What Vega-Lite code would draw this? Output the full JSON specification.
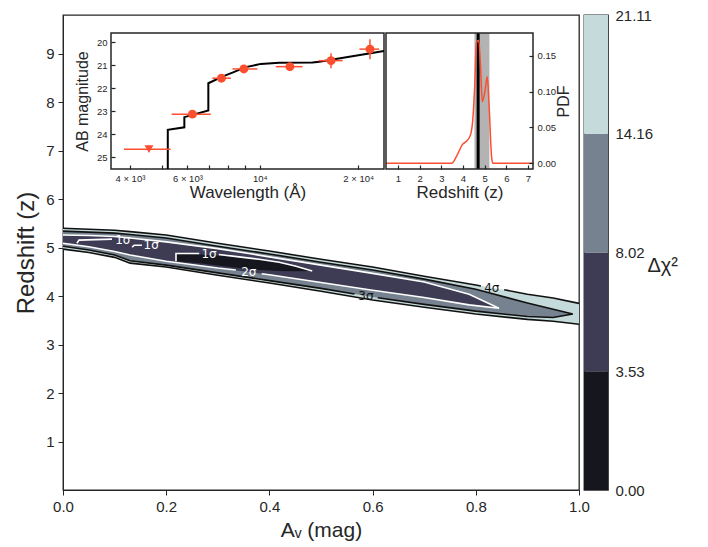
{
  "$schema": "https://vega.github.io/schema/vega-lite/v6.json",
  "background": "white",
  "padding": {"left": 14, "top": 7, "right": 5, "bottom": 5},
  "config": {
    "font": "Liberation Sans",
    "view": {"stroke": "#262626", "strokeWidth": 1.3},
    "axis": {"labelColor": "#262626", "titleColor": "#262626", "domainColor": "#262626", "tickColor": "#262626", "labelFont": "Liberation Sans", "titleFont": "Liberation Sans", "titleFontWeight": "normal", "grid": false, "labelFlush": false}
  },
  "datasets": {
    "one": [{"k": 1}],
    "outer": [
      {"a": 0, "hi": 5.40, "lo": 4.97}, {"a": 0.05, "hi": 5.38, "lo": 4.90}, {"a": 0.10, "hi": 5.36, "lo": 4.80}, {"a": 0.13, "hi": 5.33, "lo": 4.68},
      {"a": 0.20, "hi": 5.26, "lo": 4.60}, {"a": 0.30, "hi": 5.09, "lo": 4.43}, {"a": 0.40, "hi": 4.93, "lo": 4.27}, {"a": 0.50, "hi": 4.76, "lo": 4.10},
      {"a": 0.60, "hi": 4.60, "lo": 3.92}, {"a": 0.70, "hi": 4.41, "lo": 3.77}, {"a": 0.80, "hi": 4.23, "lo": 3.63}, {"a": 0.90, "hi": 4.04, "lo": 3.52},
      {"a": 0.95, "hi": 3.96, "lo": 3.48}, {"a": 1.0, "hi": 3.85, "lo": 3.42}
    ],
    "mid": [
      {"a": 0, "hi": 5.34, "lo": 5.03}, {"a": 0.05, "hi": 5.32, "lo": 4.95}, {"a": 0.10, "hi": 5.30, "lo": 4.85}, {"a": 0.13, "hi": 5.27, "lo": 4.73},
      {"a": 0.20, "hi": 5.20, "lo": 4.64}, {"a": 0.30, "hi": 5.03, "lo": 4.48}, {"a": 0.40, "hi": 4.87, "lo": 4.32}, {"a": 0.50, "hi": 4.70, "lo": 4.16},
      {"a": 0.60, "hi": 4.54, "lo": 3.98}, {"a": 0.70, "hi": 4.35, "lo": 3.83}, {"a": 0.80, "hi": 4.14, "lo": 3.69}, {"a": 0.90, "hi": 3.86, "lo": 3.58},
      {"a": 0.95, "hi": 3.73, "lo": 3.56}, {"a": 0.988, "hi": 3.63, "lo": 3.63}
    ],
    "navy": [
      {"a": 0, "hi": 5.26, "lo": 5.09}, {"a": 0.05, "hi": 5.25, "lo": 5.02}, {"a": 0.10, "hi": 5.23, "lo": 4.92}, {"a": 0.13, "hi": 5.20, "lo": 4.85},
      {"a": 0.20, "hi": 5.12, "lo": 4.72}, {"a": 0.30, "hi": 4.98, "lo": 4.58}, {"a": 0.36, "hi": 4.88, "lo": 4.50}, {"a": 0.40, "hi": 4.81, "lo": 4.44},
      {"a": 0.50, "hi": 4.64, "lo": 4.28}, {"a": 0.60, "hi": 4.47, "lo": 4.12}, {"a": 0.70, "hi": 4.29, "lo": 3.97}, {"a": 0.787, "hi": 4.04, "lo": 3.82},
      {"a": 0.845, "hi": 3.75, "lo": 3.75}
    ],
    "core": [
      {"a": 0.219, "hi": 4.88, "lo": 4.72}, {"a": 0.264, "hi": 4.86, "lo": 4.68}, {"a": 0.30, "hi": 4.84, "lo": 4.63}, {"a": 0.341, "hi": 4.80, "lo": 4.58},
      {"a": 0.38, "hi": 4.76, "lo": 4.54}, {"a": 0.419, "hi": 4.70, "lo": 4.52}, {"a": 0.45, "hi": 4.62, "lo": 4.515}, {"a": 0.483, "hi": 4.52, "lo": 4.52}
    ],
    "clines": [
      {"seg": "4a", "sigma": "4σ", "i": 0, "a": 0, "z": 5.40}, {"seg": "4a", "sigma": "4σ", "i": 1, "a": 0.05, "z": 5.38}, {"seg": "4a", "sigma": "4σ", "i": 2, "a": 0.10, "z": 5.36},
      {"seg": "4a", "sigma": "4σ", "i": 3, "a": 0.13, "z": 5.33}, {"seg": "4a", "sigma": "4σ", "i": 4, "a": 0.20, "z": 5.26}, {"seg": "4a", "sigma": "4σ", "i": 5, "a": 0.30, "z": 5.09},
      {"seg": "4a", "sigma": "4σ", "i": 6, "a": 0.40, "z": 4.93}, {"seg": "4a", "sigma": "4σ", "i": 7, "a": 0.50, "z": 4.76}, {"seg": "4a", "sigma": "4σ", "i": 8, "a": 0.60, "z": 4.60},
      {"seg": "4a", "sigma": "4σ", "i": 9, "a": 0.70, "z": 4.41}, {"seg": "4a", "sigma": "4σ", "i": 10, "a": 0.80, "z": 4.23}, {"seg": "4a", "sigma": "4σ", "i": 11, "a": 0.81, "z": 4.21},
      {"seg": "4b", "sigma": "4σ", "i": 0, "a": 0.855, "z": 4.13}, {"seg": "4b", "sigma": "4σ", "i": 1, "a": 0.90, "z": 4.04}, {"seg": "4b", "sigma": "4σ", "i": 2, "a": 0.95, "z": 3.96},
      {"seg": "4b", "sigma": "4σ", "i": 3, "a": 1.0, "z": 3.85},
      {"seg": "4c", "sigma": "4σ", "i": 0, "a": 0, "z": 4.97}, {"seg": "4c", "sigma": "4σ", "i": 1, "a": 0.05, "z": 4.90}, {"seg": "4c", "sigma": "4σ", "i": 2, "a": 0.10, "z": 4.80},
      {"seg": "4c", "sigma": "4σ", "i": 3, "a": 0.13, "z": 4.68}, {"seg": "4c", "sigma": "4σ", "i": 4, "a": 0.20, "z": 4.60}, {"seg": "4c", "sigma": "4σ", "i": 5, "a": 0.30, "z": 4.43},
      {"seg": "4c", "sigma": "4σ", "i": 6, "a": 0.40, "z": 4.27}, {"seg": "4c", "sigma": "4σ", "i": 7, "a": 0.50, "z": 4.10}, {"seg": "4c", "sigma": "4σ", "i": 8, "a": 0.60, "z": 3.92},
      {"seg": "4c", "sigma": "4σ", "i": 9, "a": 0.70, "z": 3.77}, {"seg": "4c", "sigma": "4σ", "i": 10, "a": 0.80, "z": 3.63}, {"seg": "4c", "sigma": "4σ", "i": 11, "a": 0.90, "z": 3.52},
      {"seg": "4c", "sigma": "4σ", "i": 12, "a": 0.95, "z": 3.48}, {"seg": "4c", "sigma": "4σ", "i": 13, "a": 1.0, "z": 3.42},
      {"seg": "3a", "sigma": "3σ", "i": 0, "a": 0, "z": 5.34}, {"seg": "3a", "sigma": "3σ", "i": 1, "a": 0.05, "z": 5.32}, {"seg": "3a", "sigma": "3σ", "i": 2, "a": 0.10, "z": 5.30},
      {"seg": "3a", "sigma": "3σ", "i": 3, "a": 0.13, "z": 5.27}, {"seg": "3a", "sigma": "3σ", "i": 4, "a": 0.20, "z": 5.20}, {"seg": "3a", "sigma": "3σ", "i": 5, "a": 0.30, "z": 5.03},
      {"seg": "3a", "sigma": "3σ", "i": 6, "a": 0.40, "z": 4.87}, {"seg": "3a", "sigma": "3σ", "i": 7, "a": 0.50, "z": 4.70}, {"seg": "3a", "sigma": "3σ", "i": 8, "a": 0.60, "z": 4.54},
      {"seg": "3a", "sigma": "3σ", "i": 9, "a": 0.70, "z": 4.35}, {"seg": "3a", "sigma": "3σ", "i": 10, "a": 0.80, "z": 4.14}, {"seg": "3a", "sigma": "3σ", "i": 11, "a": 0.90, "z": 3.86},
      {"seg": "3a", "sigma": "3σ", "i": 12, "a": 0.95, "z": 3.73}, {"seg": "3a", "sigma": "3σ", "i": 13, "a": 0.988, "z": 3.63}, {"seg": "3a", "sigma": "3σ", "i": 14, "a": 0.95, "z": 3.56},
      {"seg": "3a", "sigma": "3σ", "i": 15, "a": 0.90, "z": 3.58}, {"seg": "3a", "sigma": "3σ", "i": 16, "a": 0.80, "z": 3.69}, {"seg": "3a", "sigma": "3σ", "i": 17, "a": 0.70, "z": 3.83},
      {"seg": "3a", "sigma": "3σ", "i": 18, "a": 0.61, "z": 3.965},
      {"seg": "3b", "sigma": "3σ", "i": 0, "a": 0.565, "z": 4.043}, {"seg": "3b", "sigma": "3σ", "i": 1, "a": 0.50, "z": 4.16}, {"seg": "3b", "sigma": "3σ", "i": 2, "a": 0.40, "z": 4.32},
      {"seg": "3b", "sigma": "3σ", "i": 3, "a": 0.30, "z": 4.48}, {"seg": "3b", "sigma": "3σ", "i": 4, "a": 0.20, "z": 4.64}, {"seg": "3b", "sigma": "3σ", "i": 5, "a": 0.13, "z": 4.73},
      {"seg": "3b", "sigma": "3σ", "i": 6, "a": 0.10, "z": 4.85}, {"seg": "3b", "sigma": "3σ", "i": 7, "a": 0.05, "z": 4.95}, {"seg": "3b", "sigma": "3σ", "i": 8, "a": 0, "z": 5.03},
      {"seg": "2a", "sigma": "2σ", "i": 0, "a": 0, "z": 5.26}, {"seg": "2a", "sigma": "2σ", "i": 1, "a": 0.05, "z": 5.25}, {"seg": "2a", "sigma": "2σ", "i": 2, "a": 0.10, "z": 5.23},
      {"seg": "2a", "sigma": "2σ", "i": 3, "a": 0.13, "z": 5.20}, {"seg": "2a", "sigma": "2σ", "i": 4, "a": 0.20, "z": 5.12}, {"seg": "2a", "sigma": "2σ", "i": 5, "a": 0.30, "z": 4.98},
      {"seg": "2a", "sigma": "2σ", "i": 6, "a": 0.36, "z": 4.88}, {"seg": "2a", "sigma": "2σ", "i": 7, "a": 0.40, "z": 4.81}, {"seg": "2a", "sigma": "2σ", "i": 8, "a": 0.50, "z": 4.64},
      {"seg": "2a", "sigma": "2σ", "i": 9, "a": 0.60, "z": 4.47}, {"seg": "2a", "sigma": "2σ", "i": 10, "a": 0.70, "z": 4.29}, {"seg": "2a", "sigma": "2σ", "i": 11, "a": 0.787, "z": 4.04},
      {"seg": "2a", "sigma": "2σ", "i": 12, "a": 0.845, "z": 3.75}, {"seg": "2a", "sigma": "2σ", "i": 13, "a": 0.787, "z": 3.82}, {"seg": "2a", "sigma": "2σ", "i": 14, "a": 0.70, "z": 3.97},
      {"seg": "2a", "sigma": "2σ", "i": 15, "a": 0.60, "z": 4.12}, {"seg": "2a", "sigma": "2σ", "i": 16, "a": 0.50, "z": 4.28}, {"seg": "2a", "sigma": "2σ", "i": 17, "a": 0.40, "z": 4.44},
      {"seg": "2a", "sigma": "2σ", "i": 18, "a": 0.385, "z": 4.46},
      {"seg": "2b", "sigma": "2σ", "i": 0, "a": 0.335, "z": 4.54}, {"seg": "2b", "sigma": "2σ", "i": 1, "a": 0.30, "z": 4.58}, {"seg": "2b", "sigma": "2σ", "i": 2, "a": 0.20, "z": 4.72},
      {"seg": "2b", "sigma": "2σ", "i": 3, "a": 0.13, "z": 4.85}, {"seg": "2b", "sigma": "2σ", "i": 4, "a": 0.10, "z": 4.92}, {"seg": "2b", "sigma": "2σ", "i": 5, "a": 0.05, "z": 5.02},
      {"seg": "2b", "sigma": "2σ", "i": 6, "a": 0, "z": 5.09},
      {"seg": "1a", "sigma": "1σ", "i": 0, "a": 0.027, "z": 5.09}, {"seg": "1a", "sigma": "1σ", "i": 1, "a": 0.031, "z": 5.155}, {"seg": "1a", "sigma": "1σ", "i": 2, "a": 0.095, "z": 5.176},
      {"seg": "1b", "sigma": "1σ", "i": 0, "a": 0.134, "z": 5.01}, {"seg": "1b", "sigma": "1σ", "i": 1, "a": 0.138, "z": 5.05}, {"seg": "1b", "sigma": "1σ", "i": 2, "a": 0.153, "z": 5.05},
      {"seg": "1c", "sigma": "1σ", "i": 0, "a": 0.219, "z": 4.72}, {"seg": "1c", "sigma": "1σ", "i": 1, "a": 0.219, "z": 4.88}, {"seg": "1c", "sigma": "1σ", "i": 2, "a": 0.264, "z": 4.88},
      {"seg": "1d", "sigma": "1σ", "i": 0, "a": 0.302, "z": 4.86}, {"seg": "1d", "sigma": "1σ", "i": 1, "a": 0.341, "z": 4.81}, {"seg": "1d", "sigma": "1σ", "i": 2, "a": 0.38, "z": 4.76},
      {"seg": "1d", "sigma": "1σ", "i": 3, "a": 0.419, "z": 4.70}, {"seg": "1d", "sigma": "1σ", "i": 4, "a": 0.45, "z": 4.62}, {"seg": "1d", "sigma": "1σ", "i": 5, "a": 0.483, "z": 4.52}
    ],
    "clabels": [
      {"a": 0.116, "z": 5.165, "sigma": "1σ"}, {"a": 0.171, "z": 5.05, "sigma": "1σ"}, {"a": 0.283, "z": 4.875, "sigma": "1σ"},
      {"a": 0.36, "z": 4.50, "sigma": "2σ"}, {"a": 0.587, "z": 4.00, "sigma": "3σ"}, {"a": 0.831, "z": 4.16, "sigma": "4σ"}
    ],
    "model": [
      {"i": 0, "w": 5224, "m": 25.5}, {"i": 1, "w": 5224, "m": 23.80}, {"i": 2, "w": 5871, "m": 23.69}, {"i": 3, "w": 5871, "m": 23.25},
      {"i": 4, "w": 6953, "m": 22.96}, {"i": 5, "w": 6953, "m": 21.78}, {"i": 6, "w": 7677, "m": 21.49}, {"i": 7, "w": 8240, "m": 21.32},
      {"i": 8, "w": 9057, "m": 21.08}, {"i": 9, "w": 10070, "m": 20.94}, {"i": 10, "w": 11460, "m": 20.89}, {"i": 11, "w": 14500, "m": 20.88},
      {"i": 12, "w": 15200, "m": 20.85}, {"i": 13, "w": 24000, "m": 20.38}
    ],
    "phot": [
      {"w": 4575, "m": 24.64, "wlo": 3835, "whi": 5330, "kind": "upper limit"},
      {"w": 6214, "m": 23.12, "wlo": 5370, "whi": 7075, "mlo": 23.05, "mhi": 23.19, "kind": "detection"},
      {"w": 7627, "m": 21.56, "wlo": 7150, "whi": 8150, "mlo": 21.50, "mhi": 21.62, "kind": "detection"},
      {"w": 8931, "m": 21.16, "wlo": 8240, "whi": 9830, "mlo": 21.10, "mhi": 21.22, "kind": "detection"},
      {"w": 12360, "m": 21.06, "wlo": 11190, "whi": 13510, "mlo": 20.92, "mhi": 21.20, "kind": "detection"},
      {"w": 16520, "m": 20.80, "wlo": 15130, "whi": 17930, "mlo": 20.48, "mhi": 21.13, "kind": "detection"},
      {"w": 21740, "m": 20.30, "wlo": 20180, "whi": 23200, "mlo": 19.87, "mhi": 20.74, "kind": "detection"}
    ],
    "pdf": [
      {"z": 0.45, "p": 0}, {"z": 3.48, "p": 0}, {"z": 3.74, "p": 0.012}, {"z": 3.97, "p": 0.026}, {"z": 4.2, "p": 0.032},
      {"z": 4.35, "p": 0.04}, {"z": 4.45, "p": 0.06}, {"z": 4.54, "p": 0.107}, {"z": 4.62, "p": 0.168}, {"z": 4.73, "p": 0.172},
      {"z": 4.81, "p": 0.135}, {"z": 4.89, "p": 0.086}, {"z": 5.01, "p": 0.10}, {"z": 5.12, "p": 0.121}, {"z": 5.2, "p": 0.084},
      {"z": 5.32, "p": 0.009}, {"z": 5.38, "p": 0}, {"z": 7.23, "p": 0}
    ],
    "cbar": [
      {"lo": 0, "hi": 1, "band": "0.00–3.53"}, {"lo": 1, "hi": 2, "band": "3.53–8.02"},
      {"lo": 2, "hi": 3, "band": "8.02–14.16"}, {"lo": 3, "hi": 4, "band": "14.16–21.11"}
    ]
  },
  "spacing": 5,
  "bounds": "flush",
  "hconcat": [
    {
      "width": 516,
      "height": 475,
      "layer": [
        {
          "layer": [
            {
              "data": {"name": "outer"},
              "mark": {"type": "area", "color": "#c5dada", "strokeWidth": 0},
              "encoding": {
                "x": {"field": "a", "type": "quantitative", "title": "Aᵥ (mag)", "scale": {"domain": [0, 1], "nice": false},
                      "axis": {"orient": "bottom", "values": [0, 0.2, 0.4, 0.6, 0.8, 1.0], "format": ".1f", "labelFontSize": 15, "titleFontSize": 21, "tickSize": 5, "labelPadding": 4, "titlePadding": 5}},
                "y": {"field": "hi", "type": "quantitative", "title": "Redshift (z)", "scale": {"domain": [0, 9.8], "nice": false, "zero": false},
                      "axis": {"orient": "left", "values": [1, 2, 3, 4, 5, 6, 7, 8, 9], "labelFontSize": 15, "titleFontSize": 24, "tickSize": 5, "labelPadding": 4, "titlePadding": 7}},
                "y2": {"field": "lo"}
              }
            },
            {
              "data": {"name": "mid"},
              "mark": {"type": "area", "color": "#76828f", "strokeWidth": 0},
              "encoding": {
                "x": {"field": "a", "type": "quantitative", "title": "Aᵥ (mag)"},
                "y": {"field": "hi", "type": "quantitative", "title": "Redshift (z)"},
                "y2": {"field": "lo"}
              }
            },
            {
              "data": {"name": "navy"},
              "mark": {"type": "area", "color": "#3d3c54", "strokeWidth": 0},
              "encoding": {
                "x": {"field": "a", "type": "quantitative", "title": "Aᵥ (mag)"},
                "y": {"field": "hi", "type": "quantitative", "title": "Redshift (z)"},
                "y2": {"field": "lo"}
              }
            },
            {
              "data": {"name": "core"},
              "mark": {"type": "area", "color": "#16161f", "strokeWidth": 0},
              "encoding": {
                "x": {"field": "a", "type": "quantitative", "title": "Aᵥ (mag)"},
                "y": {"field": "hi", "type": "quantitative", "title": "Redshift (z)"},
                "y2": {"field": "lo"}
              }
            },
            {
              "data": {"name": "clines"},
              "mark": {"type": "line", "strokeWidth": 1.6},
              "encoding": {
                "x": {"field": "a", "type": "quantitative", "title": "Aᵥ (mag)"},
                "y": {"field": "z", "type": "quantitative", "title": "Redshift (z)"},
                "detail": {"field": "seg"},
                "order": {"field": "i", "type": "quantitative"},
                "color": {"field": "sigma", "type": "nominal", "scale": {"domain": ["1σ", "2σ", "3σ", "4σ"], "range": ["#ffffff", "#ffffff", "#111111", "#111111"]}, "legend": null}
              }
            },
            {
              "data": {"name": "clabels"},
              "mark": {"type": "text", "fontSize": 12, "font": "DejaVu Sans", "align": "center", "baseline": "middle"},
              "encoding": {
                "x": {"field": "a", "type": "quantitative", "title": "Aᵥ (mag)"},
                "y": {"field": "z", "type": "quantitative", "title": "Redshift (z)"},
                "text": {"field": "sigma"},
                "color": {"field": "sigma", "type": "nominal", "scale": {"domain": ["1σ", "2σ", "3σ", "4σ"], "range": ["#ffffff", "#ffffff", "#111111", "#111111"]}, "legend": null}
              }
            }
          ]
        },
        {
          "layer": [
            {
              "data": {"name": "one"},
              "mark": {"type": "rect", "fill": "white", "stroke": "#262626", "strokeWidth": 1.5},
              "encoding": {
                "x": {"datum": 3500, "type": "quantitative", "title": "Wavelength (Å)", "scale": {"type": "log", "domain": [3500, 24000], "range": [48, 321], "nice": false}},
                "x2": {"datum": 24000},
                "y": {"datum": 19.6, "type": "quantitative", "title": "AB magnitude", "scale": {"domain": [19.6, 25.5], "range": [18, 154], "nice": false, "zero": false}},
                "y2": {"datum": 25.5}
              }
            },
            {
              "data": {"name": "model"},
              "mark": {"type": "line", "color": "black", "strokeWidth": 2},
              "encoding": {
                "x": {"field": "w", "type": "quantitative", "title": "Wavelength (Å)",
                      "axis": {"orient": "bottom", "offset": -321, "zindex": 1, "domain": false, "values": [4000, 5000, 6000, 7000, 8000, 9000, 10000, 20000],
                               "labelExpr": "datum.value == 4000 ? '4 × 10³' : datum.value == 6000 ? '6 × 10³' : datum.value == 10000 ? '10⁴' : datum.value == 20000 ? '2 × 10⁴' : ''",
                               "tickSize": -4, "tickWidth": 1.2, "labelPadding": 8, "labelFontSize": 9.5, "titleFontSize": 17, "titlePadding": 2}},
                "y": {"field": "m", "type": "quantitative", "title": "AB magnitude",
                      "axis": {"orient": "left", "offset": -48, "zindex": 1, "domain": false, "values": [20, 21, 22, 23, 24, 25], "format": "d", "tickSize": -4, "tickWidth": 1.2, "labelPadding": 8, "labelFontSize": 9.5, "titleFontSize": 16, "titlePadding": 6}},
                "order": {"field": "i", "type": "quantitative"}
              }
            },
            {
              "data": {"name": "phot"},
              "mark": {"type": "rule", "color": "#fc4f30", "strokeWidth": 1.5},
              "encoding": {
                "x": {"field": "wlo", "type": "quantitative", "title": "Wavelength (Å)"},
                "x2": {"field": "whi"},
                "y": {"field": "m", "type": "quantitative", "title": "AB magnitude"}
              }
            },
            {
              "data": {"name": "phot"},
              "transform": [{"filter": "datum.mlo != null"}],
              "mark": {"type": "rule", "color": "#fc4f30", "strokeWidth": 1.5},
              "encoding": {
                "x": {"field": "w", "type": "quantitative", "title": "Wavelength (Å)"},
                "y": {"field": "mlo", "type": "quantitative", "title": "AB magnitude"},
                "y2": {"field": "mhi"}
              }
            },
            {
              "data": {"name": "phot"},
              "mark": {"type": "point", "filled": true, "opacity": 1, "color": "#fc4f30", "size": 80},
              "encoding": {
                "x": {"field": "w", "type": "quantitative", "title": "Wavelength (Å)"},
                "y": {"field": "m", "type": "quantitative", "title": "AB magnitude"},
                "shape": {"field": "kind", "type": "nominal", "scale": {"domain": ["detection", "upper limit"], "range": ["circle", "triangle-down"]}, "legend": null}
              }
            }
          ]
        },
        {
          "layer": [
            {
              "data": {"name": "one"},
              "mark": {"type": "rect", "fill": "white", "strokeWidth": 0},
              "encoding": {
                "x": {"datum": 0.45, "type": "quantitative", "title": "Redshift (z)", "scale": {"domain": [0.45, 7.23], "range": [323, 470], "nice": false, "zero": false}},
                "x2": {"datum": 7.23},
                "y": {"datum": -0.008, "type": "quantitative", "title": "PDF", "scale": {"domain": [-0.008, 0.182], "range": [154, 18], "nice": false, "zero": false}},
                "y2": {"datum": 0.182}
              }
            },
            {
              "data": {"name": "one"},
              "mark": {"type": "rect", "fill": "#b3b3b3", "strokeWidth": 0},
              "encoding": {
                "x": {"datum": 4.53, "type": "quantitative", "title": "Redshift (z)"},
                "x2": {"datum": 5.22},
                "y": {"datum": -0.008, "type": "quantitative", "title": "PDF"},
                "y2": {"datum": 0.182}
              }
            },
            {
              "data": {"name": "one"},
              "mark": {"type": "rule", "color": "black", "strokeWidth": 3},
              "encoding": {
                "x": {"datum": 4.70, "type": "quantitative", "title": "Redshift (z)"},
                "y": {"datum": -0.008, "type": "quantitative", "title": "PDF"},
                "y2": {"datum": 0.182}
              }
            },
            {
              "data": {"name": "pdf"},
              "mark": {"type": "line", "color": "#fc4f30", "strokeWidth": 1.5, "interpolate": "monotone"},
              "encoding": {
                "x": {"field": "z", "type": "quantitative", "title": "Redshift (z)",
                      "axis": {"orient": "bottom", "offset": -321, "zindex": 1, "domain": false, "values": [1, 2, 3, 4, 5, 6, 7], "format": "d", "tickSize": -4, "tickWidth": 1.2, "labelPadding": 8, "labelFontSize": 9.5, "titleFontSize": 17, "titlePadding": 2}},
                "y": {"field": "p", "type": "quantitative", "title": "PDF",
                      "axis": {"orient": "right", "offset": -46, "zindex": 1, "domain": false, "values": [0, 0.05, 0.1, 0.15], "format": ".2f", "tickSize": -4, "tickWidth": 1.2, "labelPadding": 8, "labelFontSize": 9.5, "titleFontSize": 16, "titleAngle": 270, "titlePadding": 16}}
              }
            },
            {
              "data": {"name": "one"},
              "mark": {"type": "rect", "fillOpacity": 0, "stroke": "#262626", "strokeWidth": 1.5},
              "encoding": {
                "x": {"datum": 0.45, "type": "quantitative", "title": "Redshift (z)"},
                "x2": {"datum": 7.23},
                "y": {"datum": -0.008, "type": "quantitative", "title": "PDF"},
                "y2": {"datum": 0.182}
              }
            }
          ]
        }
      ],
      "resolve": {
        "scale": {"x": "independent", "y": "independent", "color": "independent", "shape": "independent"},
        "axis": {"x": "independent", "y": "independent"}
      }
    },
    {
      "width": 24,
      "height": 475,
      "data": {"name": "cbar"},
      "mark": {"type": "rect", "strokeWidth": 0},
      "encoding": {
        "y": {"field": "lo", "type": "quantitative", "title": "Δχ²", "scale": {"domain": [0, 4], "nice": false},
              "axis": {"orient": "right", "values": [0, 1, 2, 3, 4], "labelExpr": "['0.00', '3.53', '8.02', '14.16', '21.11'][datum.value]", "ticks": false, "domain": false, "labelPadding": 7, "labelFontSize": 15,
                       "titleFontSize": 20, "titleAngle": 0, "titleAlign": "left", "titleBaseline": "middle", "titleX": 39, "titleY": 250}},
        "y2": {"field": "hi"},
        "color": {"field": "band", "type": "nominal", "scale": {"domain": ["0.00–3.53", "3.53–8.02", "8.02–14.16", "14.16–21.11"], "range": ["#16161f", "#3d3c54", "#76828f", "#c5dada"]}, "legend": null}
      }
    }
  ]
}
